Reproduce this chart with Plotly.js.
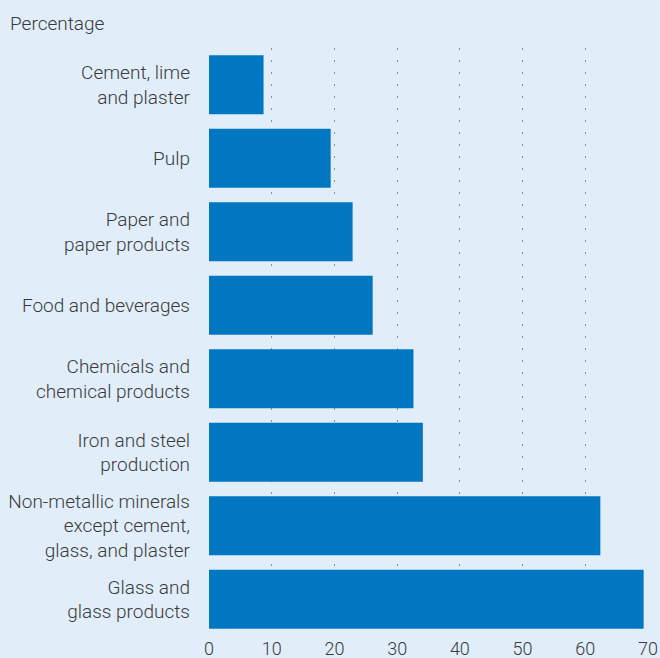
<!DOCTYPE html>
<html>
<head>
<meta charset="utf-8">
<script src="https://cdn.plot.ly/plotly-3.0.1.min.js"></script>
<style>html,body{margin:0;padding:0;background:#e1eef9;}#chart{width:660px;height:658px;}</style>
</head>
<body>
<div id="chart"></div>
<script>
const categories = [
  "Cement, lime<br>and plaster",
  "Pulp",
  "Paper and<br>paper products",
  "Food and beverages",
  "Chemicals and<br>chemical products",
  "Iron and steel<br>production",
  "Non-metallic minerals<br>except cement,<br>glass, and plaster",
  "Glass and<br>glass products"
];
const values = [8.7, 19.4, 22.9, 26.1, 32.6, 34.1, 62.4, 69.3];
const tickVals = [0, 10, 20, 30, 40, 50, 60, 70];

const fam = "Roboto, 'Noto Sans', sans-serif";
const txtColor = "#3a3a3a";

Plotly.newPlot("chart", [{
  type: "bar",
  orientation: "h",
  y: categories,
  x: values,
  marker: {color: "#0077c0"},
  hoverinfo: "x+y"
}], {
  width: 660, height: 658,
  paper_bgcolor: "#e1eef9",
  plot_bgcolor: "#e1eef9",
  font: {family: fam, size: 19, color: txtColor, weight: 300},
  margin: {l: 209, r: 12, t: 48, b: 22},
  bargap: 0.2,
  showlegend: false,
  title: {text: "Percentage", x: 10 / 660, xref: "container", xanchor: "left",
          y: 1 - 23 / 658, yref: "container", yanchor: "middle",
          font: {family: fam, size: 19, color: txtColor, weight: 300}},
  xaxis: {range: [0, 70], tickvals: tickVals, ticktext: tickVals.map(String),
          tickfont: {family: fam, size: 18, color: txtColor, weight: 300},
          showgrid: true, gridcolor: "#8e8e8e", griddash: "2px,10px", gridwidth: 1,
          zeroline: false, showline: false, ticks: "", ticklabelstandoff: 0, fixedrange: true},
  yaxis: {autorange: "reversed", showgrid: false, zeroline: false, showline: false,
          tickfont: {family: fam, size: 19, color: txtColor, weight: 300},
          ticks: "", ticklabelstandoff: 18, fixedrange: true}
}, {displayModeBar: false, staticPlot: true});
</script>
</body>
</html>
